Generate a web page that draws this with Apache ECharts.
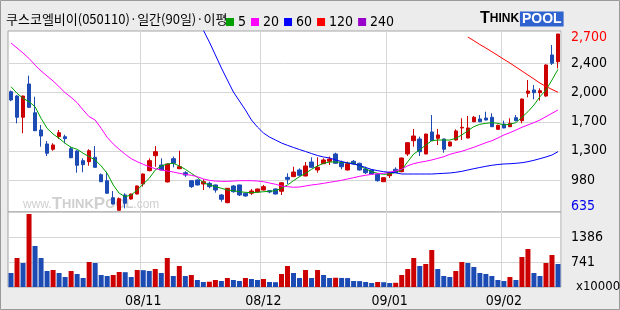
<!DOCTYPE html>
<html><head><meta charset="utf-8">
<script src="https://cdn.jsdelivr.net/npm/echarts@6/dist/echarts.min.js"></script>
<style>html,body{margin:0;padding:0;background:#ececec}#c{width:620px;height:310px}</style>
</head><body><div id="c"></div>
<script>
// ---- trading days (Oct 2008 - Feb 2009) ----
const octDays = ['01','02','06','07','08','09','10','13','14','15','16','17','20','21','22','23','24','27','28','29','30','31'];
const novDays = ['03','04','05','06','07','10','11','12','13','14','17','18','19','20','21','24','25','26','27','28'];
const decDays = ['01','02','03','04','05','08','09','10','11','12','15','16','17','18','19','22','23','24','26','29','30'];
const janDays = ['02','05','06','07','08','09','12','13','14','15','16','19','20','21','22','23','28','29','30'];
const febDays = ['02','03','04','05','06','09','10','11','12','13'];
const dates = [].concat(
  octDays.map(d => '2008-10-' + d), novDays.map(d => '2008-11-' + d),
  decDays.map(d => '2008-12-' + d), janDays.map(d => '2009-01-' + d),
  febDays.map(d => '2009-02-' + d));

// ---- prices ----
const opens  = [2026,1975,1727,2116,1780,1578,1415,1353,1500,1500,1360,1333,1220,1208,1259,1056,986,787,640,819,772,830,947,1103,1278,1169,971,1243,1126,1079,986,994,
                947,955,936,819,729,924,936,839,839,854,877,869,889,862,1025,1033,1111,1041,1204,1111,1184,1213,1298,1201,1111,1213,1189,1122,1111,1060,974,1044,1119,
                1091,1298,1453,1473,1298,1555,1481,1473,1391,1461,1602,1485,1675,1707,1718,1727,1586,1648,1617,1722,1687,2007,2046,2014,1975,2455,2376];
const closes = [1929,1727,1975,1843,1570,1508,1306,1403,1547,1477,1254,1166,1173,1336,1142,974,839,713,776,722,830,924,1064,1220,1325,1111,1181,1189,1149,1052,916,936,
                974,916,877,768,897,857,819,807,865,889,916,854,830,962,1002,1087,1049,1158,1142,1142,1228,1239,1189,1149,1184,1181,1111,1079,1064,986,1021,1079,1079,
                1251,1430,1508,1325,1531,1453,1520,1353,1438,1567,1610,1602,1727,1675,1695,1617,1633,1602,1656,1687,1940,2034,2014,2037,2338,2358,2700];
const lows   = [1915,1656,1540,1835,1565,1383,1274,1336,1473,1423,1250,1079,1084,1161,1138,970,835,708,635,663,765,825,916,1095,1149,1105,965,1142,1120,1030,901,930,
                877,897,846,740,722,846,807,800,819,848,872,839,825,819,947,1028,1033,1035,1138,1079,1180,1169,1185,1119,1105,1175,1105,1064,1060,974,970,1017,1075,
                1085,1274,1383,1274,1295,1450,1403,1313,1385,1455,1461,1480,1670,1670,1690,1612,1580,1598,1612,1680,1656,1960,1937,1921,1967,2338,2299];
const highs  = [2040,1985,1980,2213,1967,1637,1450,1423,1578,1523,1383,1340,1247,1353,1391,1070,1091,865,790,839,835,930,1070,1247,1391,1247,1185,1268,1336,1098,990,1000,
                1002,974,940,830,900,936,940,845,889,893,936,877,895,965,1072,1149,1130,1204,1259,1259,1247,1268,1313,1220,1208,1228,1195,1149,1115,1065,1025,1091,1142,
                1255,1435,1590,1500,1535,1753,1590,1478,1445,1586,1715,1742,1742,1753,1792,1773,1640,1687,1715,1753,1945,2162,2104,2065,2345,2571,2700];

// ---- volume (x10000) ----
const volumes = [457,844,715,1979,1154,844,509,535,457,354,509,431,328,741,715,406,380,406,483,478,
                 354,535,530,509,560,457,844,380,638,380,406,277,225,232,277,251,328,277,251,328,
                 302,277,302,225,220,431,638,457,328,535,328,535,406,328,335,330,326,251,248,225,
                 199,225,220,199,205,406,560,844,638,689,1051,560,380,354,509,741,715,612,457,431,
                 380,277,251,354,277,870,1076,457,380,715,922,689];

// ---- moving averages ----
const ma5 = [2084,2007,1949,1909,1850,1715,1598,1531,1481,1423,1376,1353,1306,1266,1228,1158,1072,936,839,799,819,877,947,1014,1111,1158,1181,1189,1158,1119,1072,1025,
             962,936,916,897,877,869,857,850,846,850,857,862,869,897,936,986,1033,1072,1119,1158,1189,1204,1204,1201,1193,1189,1158,1126,1091,1072,1060,1064,1084,
             1111,1208,1298,1345,1403,1453,1461,1461,1461,1481,1520,1570,1617,1645,1656,1664,1656,1637,1645,1664,1727,1792,1870,1967,2046,2162,2287];
const ma20 = [2595,2536,2478,2414,2338,2268,2209,2151,2084,2014,1960,1897,1812,1734,1695,1598,1493,1415,1353,1294,1243,1208,1177,1149,1126,1111,1099,1087,1072,1060,1049,1033,
              1006,990,982,978,978,982,986,986,986,982,974,959,944,924,916,909,912,924,936,944,955,967,978,990,1006,1021,1037,1049,1060,1068,1072,1085,1100,
              1120,1160,1185,1201,1213,1228,1247,1266,1294,1313,1329,1353,1376,1403,1430,1453,1485,1520,1547,1578,1610,1637,1664,1695,1734,1773,1812];
const ma60 = [null,null,null,null,null,null,null,null,null,null,null,null,null,null,null,null,null,null,null,null,null,null,null,null,null,null,null,null,null,null,null,null,
              2745,2606,2455,2303,2162,2022,1917,1812,1695,1613,1543,1496,1461,1426,1399,1374,1350,1327,1303,1280,1263,1251,1228,1210,1193,1181,1163,1140,1117,1103,1091,1084,1079,
              1064,1064,1064,1064,1064,1064,1068,1072,1076,1084,1095,1111,1126,1140,1154,1166,1175,1181,1184,1189,1196,1208,1224,1243,1263,1286,1325];
const ma120 = [null,null,null,null,null,null,null,null,null,null,null,null,null,null,null,null,null,null,null,null,null,null,null,null,null,null,null,null,null,null,null,null,
               null,null,null,null,null,null,null,null,null,null,null,null,null,null,null,null,null,null,null,null,null,null,null,null,null,null,null,null,null,null,null,null,null,
               null,null,null,null,null,null,null,null,null,null,null,2665,2622,2577,2536,2493,2449,2404,2361,2314,2268,2221,2174,2127,2087,2052,2019];
const ma240 = [];

// ---- axis ticks ----
const priceGridValues = [994, 1335, 1674, 2018, 2357];
const priceTickValues = [635, 994, 1335, 1674, 2018, 2357, 2700];
const priceTickLabels = ['635', '980', '1,300', '1,700', '2,000', '2,400', '2,700'];
const volTickValues = [741, 1386];
const volTickLabels = ['741', '1386'];

const titleText = '쿠스코엘비이(050110)·일간(90일)·이평';
const UP = '#cc0000', DOWN = '#1c4bb4';
const NARROW = "'Liberation Sans Narrow','DejaVu Sans Condensed','Liberation Sans',sans-serif";

const candles = dates.map((d, i) => [opens[i], closes[i], lows[i], highs[i]]);
const isMonthStart = i => i > 0 && dates[i].slice(0, 7) !== dates[i - 1].slice(0, 7);

const chart = echarts.init(document.getElementById('c'), null, {renderer: 'canvas'});
const xBase = {
  type: 'category', data: dates, boundaryGap: true,
  axisLine: {show: false}, axisTick: {show: false},
  splitLine: {show: true, interval: (i) => isMonthStart(i), lineStyle: {color: '#d6d6d6', width: 1}}
};
chart.setOption({
  animation: false,
  backgroundColor: '#ececec',
  title: {text: titleText, left: 6, top: 13, padding: 0,
    textStyle: {fontSize: 13, fontWeight: 'normal', color: '#000', fontFamily: "'Noto Sans CJK KR',sans-serif"}},
  legend: {
    left: 226, top: 15, padding: 0, itemWidth: 8, itemHeight: 8, itemGap: 5, icon: 'rect',
    data: ['5', '20', '60', '120', '240'],
    textStyle: {fontSize: 14, color: '#000', fontFamily: NARROW, padding: [0, 0, 0, -1]}
  },
  grid: [
    {left: 8, right: 59, top: 31, height: 181, show: true, backgroundColor: '#fff', borderColor: '#a6a6a6', borderWidth: 1},
    {left: 8, right: 59, top: 212, height: 75, show: true, backgroundColor: '#fff', borderColor: '#a0a0a0', borderWidth: 1}
  ],
  xAxis: [
    Object.assign({gridIndex: 0, axisLabel: {show: false}}, xBase),
    Object.assign({gridIndex: 1, axisLabel: {show: true, interval: (i) => isMonthStart(i), margin: 7,
      fontSize: 14, color: '#000', fontFamily: NARROW,
      formatter: v => v.slice(2, 4) + '/' + v.slice(5, 7)}}, xBase)
  ],
  yAxis: [
    {gridIndex: 0, type: 'value', position: 'right', min: 620, max: 2735,
      axisLine: {show: false},
      axisTick: {show: false, customValues: priceGridValues},
      splitLine: {show: true, lineStyle: {color: '#d6d6d6', width: 1}},
      axisLabel: {customValues: priceTickValues, margin: 10, fontSize: 14, color: '#000', fontFamily: NARROW,
        formatter: v => {
          const k = priceTickValues.indexOf(v);
          const t = k >= 0 ? priceTickLabels[k] : '';
          if (k === priceTickValues.length - 1) return '{hi|' + t + '}';
          if (k === 0) return '{lo|' + t + '}';
          return t;
        },
        rich: {hi: {color: '#ff0000', fontSize: 14, fontFamily: NARROW, padding: [6, 0, 0, 0]},
               lo: {color: '#0000ee', fontSize: 14, fontFamily: NARROW, padding: [0, 0, 8, 0]}}}
    },
    {gridIndex: 1, type: 'value', position: 'right', min: 96, max: 2031,
      axisLine: {show: false},
      axisTick: {show: false, customValues: volTickValues},
      splitLine: {show: true, lineStyle: {color: '#d6d6d6', width: 1}},
      axisLabel: {customValues: volTickValues, margin: 10, fontSize: 14, color: '#000', fontFamily: NARROW,
        formatter: v => { const k = volTickValues.indexOf(v); return k >= 0 ? volTickLabels[k] : ''; }}
    }
  ],
  graphic: [
    {type: 'rect', silent: true, z: -1, shape: {x: 0.5, y: 0.5, width: 619, height: 309},
      style: {fill: 'none', stroke: '#9a9a9a', lineWidth: 1}},
    {type: 'text', left: 480, top: 11, silent: true,
      style: {text: '{t|T}{h|HINK}{s| }{p|POOL}',
        rich: {t: {fontSize: 16, fontWeight: 'bold', fill: '#000', fontFamily: 'Liberation Sans'},
               h: {fontSize: 12, fontWeight: 'bold', fill: '#000', fontFamily: 'Liberation Sans'},
               s: {fontSize: 3},
               p: {fontSize: 14, fontWeight: 'bold', fill: '#fff', backgroundColor: '#2f64d0', padding: [1, 2, 0, 2], fontFamily: 'Liberation Sans'}}}},
    {type: 'text', left: 23, top: 196, silent: true, z: 1,
      style: {text: '{w|www.}{t|T}{h|HINK}{t|P}{h|OOL}{w|.com}',
        rich: {w: {fontSize: 12, fill: '#cfcfcf', fontFamily: 'Liberation Sans'},
               t: {fontSize: 17, fontWeight: 'bold', fill: '#cfcfcf', fontFamily: 'Liberation Sans'},
               h: {fontSize: 13, fontWeight: 'bold', fill: '#cfcfcf', fontFamily: 'Liberation Sans'}}}},
    {type: 'text', left: 576, top: 280, silent: true,
      style: {text: 'x10000', fontSize: 13, fill: '#000', fontFamily: NARROW}}
  ],
  series: [
    {name: 'price', type: 'candlestick', xAxisIndex: 0, yAxisIndex: 0, data: candles, barWidth: 4, z: 3,
      itemStyle: {color: UP, color0: DOWN, borderColor: UP, borderColor0: DOWN, borderWidth: 1}},
    {name: '5', type: 'line', xAxisIndex: 0, yAxisIndex: 0, data: ma5, showSymbol: false, symbol: 'none', color: '#00a000', lineStyle: {width: 1}, z: 4},
    {name: '20', type: 'line', xAxisIndex: 0, yAxisIndex: 0, data: ma20, showSymbol: false, symbol: 'none', color: '#ff00ff', lineStyle: {width: 1}, z: 4},
    {name: '60', type: 'line', xAxisIndex: 0, yAxisIndex: 0, data: ma60, showSymbol: false, symbol: 'none', color: '#0000ff', lineStyle: {width: 1}, z: 4},
    {name: '120', type: 'line', xAxisIndex: 0, yAxisIndex: 0, data: ma120, showSymbol: false, symbol: 'none', color: '#ff0000', lineStyle: {width: 1}, z: 4},
    {name: '240', type: 'line', xAxisIndex: 0, yAxisIndex: 0, data: ma240, showSymbol: false, symbol: 'none', color: '#9900cc', lineStyle: {width: 1}, z: 4},
    {name: 'volume', type: 'bar', xAxisIndex: 1, yAxisIndex: 1, data: volumes, barWidth: 5,
      itemStyle: {color: p => (p.dataIndex > 0 && volumes[p.dataIndex] > volumes[p.dataIndex - 1]) ? UP : DOWN}}
  ]
});
</script></body></html>
